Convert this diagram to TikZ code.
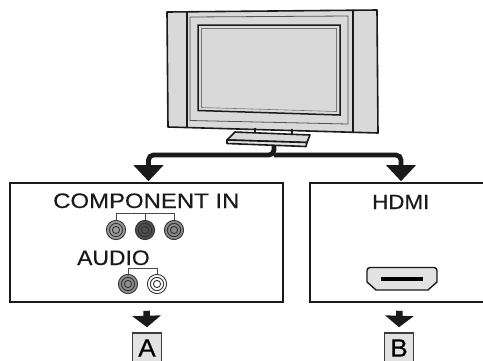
\documentclass[tikz,border=0pt]{standalone}
\usepackage{fontspec}
\setmainfont{Liberation Sans}
\newfontfamily\capwide{Liberation Sans}[FakeStretch=1.14, FakeBold=0.4]
\newfontfamily\capmid{Liberation Sans}[FakeStretch=1.09, FakeBold=0.4]
\newfontfamily\capletter{Liberation Sans}[FakeStretch=1.05, FakeBold=0.3]
\usetikzlibrary{arrows.meta}
\definecolor{ink}{HTML}{1A1A1A}
\definecolor{tvgray}{HTML}{D9D9D9}
\definecolor{portgray}{HTML}{E2E2E2}
\definecolor{jackA}{HTML}{9C9C9C}
\definecolor{jackB}{HTML}{505050}
\definecolor{jackC}{HTML}{8A8A8A}
\definecolor{jackD}{HTML}{8E8E8E}
% one RCA jack: centre x, centre y, fill colour
\newcommand{\rcajack}[3]{%
  \draw[jackline, fill=#3] (#1,#2) circle[radius=9.6];
  \draw[jackline] (#1,#2) circle[radius=6.6];
  \draw[jackline] (#1,#2) circle[radius=3.6];
}
\begin{document}
\begin{tikzpicture}[x=1pt,y=-1pt,
  tvline/.style={draw=ink, line width=1.6pt, line join=round},
  thinline/.style={draw=ink!75, line width=0.8pt},
  panel/.style={draw=ink, line width=1.6pt, minimum height=119pt, inner sep=0pt},
  feed/.style={draw=ink, line width=4.8pt, rounded corners=5pt,
    -{Triangle[width=29pt, length=16pt]}},
  pointer/.style={draw=ink, line width=6.5pt,
    -{Triangle[width=28pt, length=11.5pt]}},
  letterbox/.style={draw=ink!85, line width=1.5pt, fill=portgray,
    minimum width=29pt, minimum height=32pt, inner sep=0pt,
    font=\capletter\fontsize{25}{25}\selectfont},
  caption/.style={anchor=base west, inner sep=0pt, text=ink},
  jackline/.style={draw=ink!90, line width=0.9pt},
  bracket/.style={draw=ink!80, line width=0.9pt}]
\useasboundingbox (0,0) rectangle (483,360);

% --- flat-panel TV ---
\draw[tvline, fill=tvgray] (167,12) -- (377,10) -- (378,133) -- (168,127) -- cycle;
\draw[tvline] (187,12) -- (187,127.6);
\draw[tvline] (353,10.3) -- (353,132);
\draw[thinline] (190,17) -- (348,16) -- (348,124) -- (190,120.5) -- cycle;
\draw[draw=ink, line width=1.5pt, fill=tvgray] (198,25) -- (340,25) -- (340,115) -- (198,110.5) -- cycle;
\draw[draw=ink!60, line width=0.6pt] (201.5,28.5) -- (336.5,28.5) -- (336.5,111.5) -- (201.5,107.5) -- cycle;

% --- stand ---
\draw[tvline] (255,127.5) -- (255,133);
\draw[tvline] (292,128.8) -- (292,135);
\draw[tvline, fill=tvgray] (227,140) -- (235,132) -- (310,135) -- (307,142.5) -- cycle;
\draw[tvline, fill=tvgray!70] (227,140) -- (227,143.5) -- (306,146.5) -- (307,142.5) -- cycle;
\coordinate (stem) at (274,146);
\coordinate (split) at (274,155);

% --- connection panels ---
\node[panel, minimum width=273pt] (comp) at (146.5,242.5) {};
\node[panel, minimum width=184pt] (hdmi) at (402,242.5) {};

% feed lines from the stand to both panels
\draw[feed] (stem) -- (split) -| ([xshift=2pt, yshift=1pt]comp.north);
\draw[feed] (split) -| ([xshift=-1pt, yshift=1pt]hdmi.north);

% --- component / audio jacks ---
\node[caption, font=\capwide\fontsize{21}{21}\selectfont] (comptext) at (53,208) {COMPONENT IN};
\draw[bracket] (116,221) -- (116,213) -- (174,213) -- (174,221);
\draw[bracket] (145,213) -- (145,221);
\rcajack{116}{230}{jackA}
\rcajack{145}{230}{jackB}
\rcajack{174}{230}{jackC}

\node[caption, font=\capmid\fontsize{21}{21}\selectfont] (audiotext) at (77,265) {AUDIO};
\draw[bracket] (128,275) -- (128,268.5) -- (157,268.5) -- (157,275);
\rcajack{128}{284}{jackD}
\rcajack{157}{284}{white}

% --- HDMI ---
\node[caption, font=\capmid\fontsize{20.5}{20.5}\selectfont] (hdmitext) at (372,209) {HDMI};
\draw[draw=ink, line width=1.4pt, fill=portgray, line join=round]
  (367,282) -- (367,271) [rounded corners=3pt] -- (367,267.5) -- (437,267.5) [sharp corners] -- (437,271)
  -- (437,282) -- (428,290) -- (376,290) -- cycle;
\draw[draw=black, line width=3.8pt] (381,279) -- (423,279);

% --- result labels ---
\node[letterbox] (resA) at (147,349) {\raisebox{2pt}{A}};
\node[letterbox] (resB) at (399,349) {\raisebox{2pt}{B}};
\draw[pointer] ([yshift=-8pt]comp.south) -- ([yshift=5pt]resA.north);
\draw[pointer] ([xshift=-2.5pt, yshift=-8pt]hdmi.south) -- ([yshift=5pt]resB.north);
\end{tikzpicture}
\end{document}
